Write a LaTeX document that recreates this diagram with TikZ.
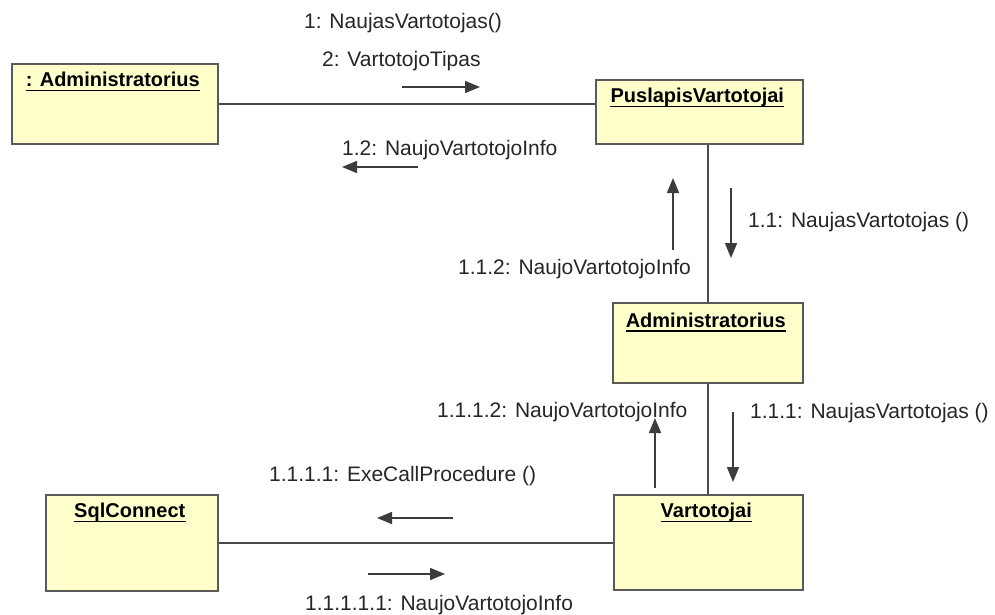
\documentclass[tikz,border=0pt]{standalone}
\usepackage{fontspec}
\setmainfont{Liberation Sans}
\usetikzlibrary{arrows.meta,calc}
\definecolor{boxfill}{HTML}{FFFFCC}
\definecolor{boxline}{HTML}{5A5A5A}
\definecolor{linkcol}{HTML}{4A4A4A}
\definecolor{arrowcol}{HTML}{3C3C3C}
\definecolor{msgcol}{HTML}{262626}
\begin{document}
\begin{tikzpicture}[x=1pt,y=-1pt,
  obj/.style={draw=boxline, fill=boxfill, line width=1.6pt, rectangle,
    inner sep=0pt, anchor=north west},
  objtitle/.style={font=\fontsize{20}{24}\selectfont\bfseries, inner sep=0pt,
    anchor=base, text=black},
  uline/.style={draw=black, line width=1.4pt},
  link/.style={draw=linkcol, line width=1.6pt},
  msg/.style={font=\fontsize{21}{25}\selectfont, inner sep=0pt,
    anchor=base west, text=msgcol},
  flow/.style={draw=arrowcol, line width=1.6pt,
    -{Triangle[length=15pt,width=12pt]}},
]
\fill[white] (0,0) rectangle (995,614);
\useasboundingbox (0,0) rectangle (995,614);

% objects
\node[obj, minimum width=206pt, minimum height=80pt] (admin) at (11,63) {};
\node[obj, minimum width=207pt, minimum height=64pt] (pusl) at (595,79) {};
\node[obj, minimum width=190pt, minimum height=80pt] (amid) at (612,302) {};
\node[obj, minimum width=172pt, minimum height=96pt] (sql) at (45,494) {};
\node[obj, minimum width=189pt, minimum height=95pt] (vart) at (613,494) {};

% object titles, underlined
\foreach \b/\t/\dy in {admin/{: Administratorius}/23.5, pusl/{PuslapisVartotojai}/23.5,
    amid/{Administratorius}/25, sql/{SqlConnect}/23.5, vart/{Vartotojai}/23.5}{
  \node[objtitle] (\b T) at ($(\b.north)+(-2,\dy)$) {\t};
  \draw[uline] ([yshift=-4pt]\b T.base west) -- ([yshift=-4pt]\b T.base east);
}

% links between objects
\draw[link] (admin.east) -- (admin.east -| pusl.west);
\draw[link] (amid.north |- pusl.south) -- (amid.north);
\draw[link] (amid.south) -- (amid.south |- vart.north);
\draw[link] (sql.east) -- (sql.east -| vart.west);

% message direction arrows
\coordinate (a1s) at (402,87);  \coordinate (a1e) at (480,87);
\coordinate (a2s) at (418,167); \coordinate (a2e) at (342,167);
\coordinate (a3s) at (673,250); \coordinate (a3e) at (673,178);
\coordinate (a4s) at (731,188); \coordinate (a4e) at (731,258);
\coordinate (a5s) at (655,488); \coordinate (a5e) at (655,418);
\coordinate (a6s) at (733,412); \coordinate (a6e) at (733,482);
\coordinate (a7s) at (453,518); \coordinate (a7e) at (377,518);
\coordinate (a8s) at (368,574); \coordinate (a8e) at (445,574);
\foreach \i in {1,...,8}{\draw[flow] (a\i s) -- (a\i e);}

% message labels
\node[msg] (m1) at (304,28) {1: NaujasVartotojas()};
\node[msg] (m2) at (322,66) {2: VartotojoTipas};
\node[msg] (m3) at (342,155) {1.2: NaujoVartotojoInfo};
\node[msg] (m4) at (458,274) {1.1.2: NaujoVartotojoInfo};
\node[msg] (m5) at (748,227) {1.1: NaujasVartotojas ()};
\node[msg] (m6) at (437,417) {1.1.1.2: NaujoVartotojoInfo};
\node[msg] (m7) at (750,418) {1.1.1: NaujasVartotojas ()};
\node[msg] (m8) at (269,481) {1.1.1.1: ExeCallProcedure ()};
\node[msg] (m9) at (305,610) {1.1.1.1.1: NaujoVartotojoInfo};
\end{tikzpicture}
\end{document}
